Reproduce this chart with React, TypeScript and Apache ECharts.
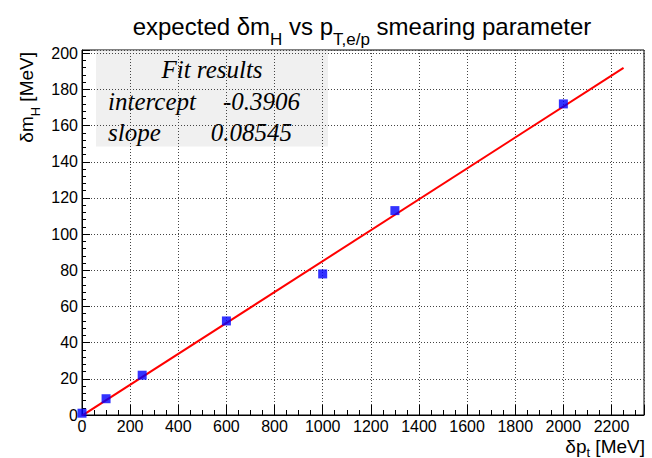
import React, { useEffect, useRef } from "react";
import * as echarts from "echarts";

// Measured smearing points
const ptSmear = [0, 100, 250, 600, 1000, 1300, 2000];
const mhSmear = [1, 9, 22, 52, 78, 113, 172];

// Linear fit result
const fitIntercept = -0.3906;
const fitSlope = 0.08545;
const fitRange = [0, 2250];

// Axis settings
const xTickStep = 200;
const yTickStep = 20;
const xMax = 2335;
const yMax = 201.8;

const SANS = "'Liberation Sans', Arial, Helvetica, sans-serif";
const SERIF = "'Liberation Serif', 'Times New Roman', serif";

export default function App() {
  const ref = useRef<HTMLDivElement>(null);

  useEffect(() => {
    document.body.style.margin = "0";
    if (!ref.current) return;
    const chart = echarts.init(ref.current, undefined, { renderer: "svg" });

    const points = ptSmear.map((x, i) => [x, mhSmear[i]]);
    const fitLine = fitRange.map((x) => [x, fitIntercept + fitSlope * x]);

    const statText = (text: string, x: number, y: number, align: string) => ({
      type: "text",
      x,
      y,
      style: {
        text,
        font: `italic 25px ${SERIF}`,
        fill: "#000",
        align,
        textAlign: align,
        verticalAlign: "middle",
        textVerticalAlign: "middle",
      },
    });

    chart.setOption({
      animation: false,
      backgroundColor: "#ffffff",
      grid: {
        left: 82,
        top: 50,
        width: 562,
        height: 365,
        show: true,
        borderColor: "#000",
        borderWidth: 1,
        backgroundColor: "#fff",
      },
      xAxis: {
        type: "value",
        min: 0,
        max: xMax,
        interval: xTickStep,
        axisLine: { show: true, onZero: false, lineStyle: { color: "#000", width: 1 } },
        axisTick: { show: true, inside: true, length: 10, lineStyle: { color: "#000" } },
        minorTick: { show: true, splitNumber: 4, length: 5, lineStyle: { color: "#000" } },
        splitLine: { show: true, lineStyle: { color: "#444", type: [1, 2], width: 1 } },
        axisLabel: {
          showMaxLabel: false,
          color: "#000",
          fontFamily: SANS,
          fontSize: 16,
          margin: 3,
          formatter: (v: number) => String(v),
        },
      },
      yAxis: {
        type: "value",
        min: 0,
        max: yMax,
        interval: yTickStep,
        axisLine: { show: true, onZero: false, lineStyle: { color: "#000", width: 1 } },
        axisTick: { show: true, inside: true, length: 8, lineStyle: { color: "#000" } },
        minorTick: { show: true, splitNumber: 5, length: 4, lineStyle: { color: "#000" } },
        splitLine: { show: true, lineStyle: { color: "#444", type: [1, 2], width: 1 } },
        axisLabel: {
          showMaxLabel: false,
          color: "#000",
          fontFamily: SANS,
          fontSize: 16,
          margin: 4,
          formatter: (v: number) => String(v),
        },
      },
      series: [
        {
          type: "line",
          data: fitLine,
          symbol: "none",
          lineStyle: { color: "#ff0000", width: 2 },
          z: 2,
        },
        {
          type: "scatter",
          data: points,
          symbol: "rect",
          symbolSize: 9,
          itemStyle: { color: "#0000ff" },
          z: 3,
        },
      ],
      graphic: [
        {
          type: "text",
          x: 362,
          y: 26,
          style: {
            text: "{m|expected δm}{s|H}{m| vs p}{s|T,e/p}{m| smearing parameter}",
            align: "center",
            textAlign: "center",
            verticalAlign: "middle",
            textVerticalAlign: "middle",
            fill: "#000",
            rich: {
              m: { fontSize: 24, fontFamily: SANS, fill: "#000", color: "#000" },
              s: { fontSize: 17, fontFamily: SANS, fill: "#000", color: "#000", padding: [26, 0, 0, 0] },
            },
          },
        },
        {
          type: "text",
          x: 26,
          y: 52,
          rotation: Math.PI / 2,
          style: {
            text: "{m|δm}{s|H}{m| [MeV]}",
            align: "right",
            textAlign: "right",
            verticalAlign: "middle",
            textVerticalAlign: "middle",
            fill: "#000",
            rich: {
              m: { fontSize: 19, fontFamily: SANS, fill: "#000", color: "#000" },
              s: { fontSize: 13, fontFamily: SANS, fill: "#000", color: "#000", padding: [18, 0, 0, 0] },
            },
          },
        },
        {
          type: "text",
          x: 645,
          y: 446,
          style: {
            text: "{m|δp}{s|t}{m| [MeV]}",
            align: "right",
            textAlign: "right",
            verticalAlign: "middle",
            textVerticalAlign: "middle",
            fill: "#000",
            rich: {
              m: { fontSize: 19, fontFamily: SANS, fill: "#000", color: "#000" },
              s: { fontSize: 13, fontFamily: SANS, fill: "#000", color: "#000", padding: [12, 0, 0, 0] },
            },
          },
        },
        {
          type: "group",
          z: 100,
          children: [
            {
              type: "rect",
              shape: { x: 96, y: 50.5, width: 232, height: 96 },
              style: { fill: "#f0f0f0", stroke: "none" },
            },
            statText("Fit results", 212, 69, "center"),
            statText("intercept", 108, 101, "left"),
            statText(String(fitIntercept), 300, 101, "right"),
            statText("slope", 108, 132, "left"),
            statText(String(fitSlope), 292, 132, "right"),
          ],
        },
      ],
    });

    return () => chart.dispose();
  }, []);

  return <div ref={ref} style={{ width: 652, height: 458 }} />;
}
